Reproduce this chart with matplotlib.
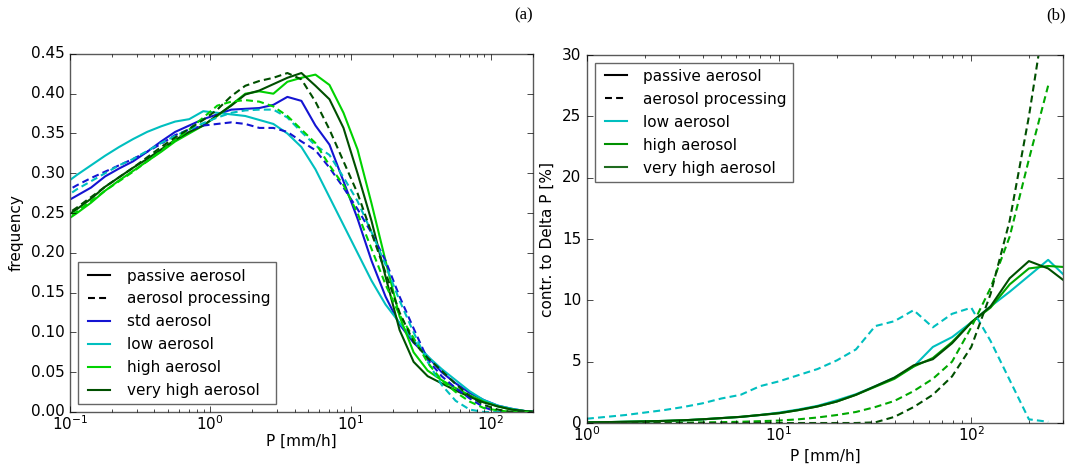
import matplotlib
matplotlib.use('Agg')
import matplotlib.pyplot as plt
import numpy as np

plt.style.use('classic')
plt.rcParams['lines.scale_dashes'] = False
plt.rcParams['font.size'] = 11
plt.rcParams['xtick.major.pad'] = 2
plt.rcParams['xtick.minor.pad'] = 2

# ---- panel (a): frequency distribution of P
P_a = 10 ** np.arange(-1.05, 2.36, 0.1)

std_pas = [0.262, 0.272, 0.282, 0.296, 0.306, 0.315, 0.327, 0.340, 0.352, 0.360,
           0.368, 0.374, 0.380, 0.381, 0.382, 0.386, 0.396, 0.391, 0.360, 0.336,
           0.290, 0.243, 0.190, 0.145, 0.110, 0.087, 0.070, 0.050, 0.036, 0.024,
           0.015, 0.008, 0.004, 0.001, 0.0]
std_pro = [0.275, 0.285, 0.294, 0.302, 0.310, 0.318, 0.327, 0.337, 0.348, 0.355,
           0.360, 0.362, 0.364, 0.362, 0.357, 0.357, 0.352, 0.340, 0.329, 0.307,
           0.282, 0.255, 0.225, 0.190, 0.145, 0.105, 0.066, 0.045, 0.030, 0.017,
           0.006, 0.0, 0.0, 0.0, 0.0]
low_pas = [0.285, 0.298, 0.310, 0.322, 0.333, 0.343, 0.352, 0.359, 0.365, 0.368,
           0.378, 0.376, 0.374, 0.372, 0.367, 0.362, 0.350, 0.333, 0.305, 0.270,
           0.235, 0.200, 0.165, 0.135, 0.112, 0.090, 0.070, 0.054, 0.040, 0.026,
           0.015, 0.008, 0.004, 0.001, 0.0]
low_pro = [0.268, 0.280, 0.290, 0.300, 0.310, 0.318, 0.328, 0.338, 0.347, 0.355,
           0.363, 0.370, 0.376, 0.379, 0.380, 0.380, 0.370, 0.352, 0.335, 0.323,
           0.295, 0.265, 0.226, 0.185, 0.140, 0.100, 0.063, 0.034, 0.014, 0.003,
           0.0, 0.0, 0.0, 0.0, 0.0]
high_pas = [0.238, 0.250, 0.263, 0.278, 0.291, 0.303, 0.315, 0.327, 0.340, 0.350,
            0.360, 0.372, 0.386, 0.400, 0.403, 0.400, 0.415, 0.420, 0.424, 0.411,
            0.376, 0.330, 0.262, 0.190, 0.120, 0.075, 0.052, 0.040, 0.030, 0.021,
            0.013, 0.007, 0.003, 0.001, 0.0]
high_pro = [0.240, 0.252, 0.265, 0.278, 0.290, 0.302, 0.315, 0.328, 0.342, 0.355,
            0.370, 0.385, 0.390, 0.392, 0.390, 0.384, 0.372, 0.355, 0.338, 0.310,
            0.285, 0.250, 0.205, 0.160, 0.122, 0.093, 0.062, 0.040, 0.025, 0.013,
            0.005, 0.002, 0.0, 0.0, 0.0]
vhigh_pas = [0.243, 0.255, 0.268, 0.283, 0.295, 0.307, 0.318, 0.330, 0.342, 0.352,
             0.360, 0.373, 0.385, 0.399, 0.404, 0.412, 0.420, 0.426, 0.410, 0.393,
             0.357, 0.300, 0.240, 0.170, 0.103, 0.063, 0.045, 0.036, 0.027, 0.019,
             0.012, 0.007, 0.003, 0.001, 0.0]
vhigh_pro = [0.245, 0.257, 0.270, 0.283, 0.295, 0.307, 0.320, 0.333, 0.345, 0.356,
             0.367, 0.380, 0.397, 0.410, 0.416, 0.420, 0.426, 0.418, 0.390, 0.355,
             0.315, 0.275, 0.225, 0.175, 0.125, 0.088, 0.068, 0.052, 0.035, 0.020,
             0.009, 0.003, 0.0, 0.0, 0.0]

# ---- panel (b): contribution to Delta P
P_b = 10 ** (np.arange(0, 26) / 10.0)

low_b_pas = [0.05, 0.07, 0.1, 0.13, 0.17, 0.22, 0.3, 0.4, 0.5, 0.65,
             0.85, 1.1, 1.4, 1.85, 2.35, 3.0, 3.7, 4.6, 6.2, 7.0,
             8.2, 9.5, 10.7, 12.0, 13.3, 11.8]
high_b_pas = [0.05, 0.07, 0.1, 0.13, 0.17, 0.22, 0.3, 0.4, 0.5, 0.65,
              0.8, 1.05, 1.35, 1.75, 2.3, 2.95, 3.6, 4.6, 5.3, 6.6,
              8.2, 9.4, 11.3, 12.6, 12.8, 12.7]
vhigh_b_pas = [0.05, 0.07, 0.1, 0.13, 0.17, 0.22, 0.3, 0.4, 0.5, 0.65,
               0.8, 1.05, 1.35, 1.75, 2.3, 3.0, 3.7, 4.7, 5.2, 6.5,
               8.2, 9.5, 11.8, 13.2, 12.6, 11.4]
low_b_pro = [0.35, 0.5, 0.65, 0.85, 1.05, 1.3, 1.6, 2.0, 2.3, 3.0,
             3.4, 3.9, 4.4, 5.1, 6.0, 7.9, 8.3, 9.2, 7.8, 8.9,
             9.4, 6.7, 3.5, 0.3, 0.1, None]
high_b_pro = [0.0, 0.0, 0.0, 0.01, 0.02, 0.03, 0.05, 0.07, 0.1, 0.15,
              0.2, 0.3, 0.45, 0.65, 0.9, 1.3, 1.8, 2.6, 3.6, 5.0,
              7.8, 11.0, 15.2, 21.5, 27.5, None]
vhigh_b_pro = [0.0, 0.0, 0.0, 0.0, 0.0, 0.0, 0.0, 0.0, 0.0, 0.0,
               0.0, 0.0, 0.0, 0.0, 0.0, 0.05, 0.5, 1.3, 2.3, 3.8,
               6.2, 10.5, 16.5, 25.0, 35.0, None]

c_std = '#1414d2'
c_low = '#00bfbf'
c_high = '#00d200'
c_vhigh = '#004f00'
dash = (5, 3)
lw = 1.5

fig = plt.figure(figsize=(10.75, 4.73), dpi=100, facecolor='white')
ax1 = fig.add_axes([0.0651, 0.129, 0.4307, 0.757])
ax2 = fig.add_axes([0.546, 0.1057, 0.4428, 0.778])

for y, c in [(std_pas, c_std), (low_pas, c_low), (high_pas, c_high), (vhigh_pas, c_vhigh)]:
    ax1.plot(P_a, y, color=c, lw=lw)
for y, c in [(std_pro, c_std), (low_pro, c_low), (high_pro, c_high), (vhigh_pro, c_vhigh)]:
    ax1.plot(P_a, y, color=c, lw=lw, ls='--', dashes=dash)

ax1.set_xscale('log')
ax1.set_xlim(0.1, 200)
ax1.set_ylim(0, 0.45)
ax1.set_yticks(np.arange(0, 0.451, 0.05))
ax1.yaxis.set_major_formatter(matplotlib.ticker.FormatStrFormatter('%.2f'))
ax1.set_xlabel('P [mm/h]', labelpad=0)
ax1.set_ylabel('frequency')

h = [plt.Line2D([], [], color='k', lw=lw),
     plt.Line2D([], [], color='k', lw=lw, ls='--', dashes=dash),
     plt.Line2D([], [], color=c_std, lw=lw),
     plt.Line2D([], [], color=c_low, lw=lw),
     plt.Line2D([], [], color=c_high, lw=lw),
     plt.Line2D([], [], color=c_vhigh, lw=lw)]
ax1.legend(h, ['passive aerosol', 'aerosol processing', 'std aerosol', 'low aerosol',
               'high aerosol', 'very high aerosol'], loc='lower left', fontsize=11,
           frameon=True, fancybox=False, edgecolor='0.4', labelspacing=0.52,
           borderaxespad=0.5)

cb_high = '#00a800'
cb_vhigh = '#004f00'
ax2.plot(P_b, low_b_pas, color=c_low, lw=lw)
ax2.plot(P_b, high_b_pas, color=cb_high, lw=lw)
ax2.plot(P_b, vhigh_b_pas, color=cb_vhigh, lw=lw)
ax2.plot(P_b, np.array(low_b_pro, dtype=float), color=c_low, lw=lw, ls='--', dashes=dash)
ax2.plot(P_b, np.array(high_b_pro, dtype=float), color=cb_high, lw=lw, ls='--', dashes=dash)
ax2.plot(P_b, np.array(vhigh_b_pro, dtype=float), color=cb_vhigh, lw=lw, ls='--', dashes=dash)
ax2.set_xscale('log')
ax2.set_xlim(1, 300)
ax2.set_ylim(0, 30)
ax2.set_xlabel('P [mm/h]', labelpad=3)
ax2.set_ylabel('contr. to Delta P [%]')
h2 = [plt.Line2D([], [], color='k', lw=lw),
      plt.Line2D([], [], color='k', lw=lw, ls='--', dashes=dash),
      plt.Line2D([], [], color=c_low, lw=lw),
      plt.Line2D([], [], color='#009000', lw=lw),
      plt.Line2D([], [], color='#1f6b1f', lw=lw)]
ax2.legend(h2, ['passive aerosol', 'aerosol processing', 'low aerosol', 'high aerosol',
                'very high aerosol'], loc='upper left', fontsize=11, frameon=True,
           fancybox=False, edgecolor='0.4', labelspacing=0.52, borderaxespad=0.5)

for ax in (ax1, ax2):
    ax.tick_params(labelsize=11)
    for s in ax.spines.values():
        s.set_color('0.35')

fig.text(0.487, 0.968, '(a)', family='Liberation Serif', fontsize=12, ha='center', va='center')
fig.text(0.982, 0.968, '(b)', family='Liberation Serif', fontsize=12, ha='center', va='center')

fig.savefig('out.png', dpi=100, facecolor='white')
